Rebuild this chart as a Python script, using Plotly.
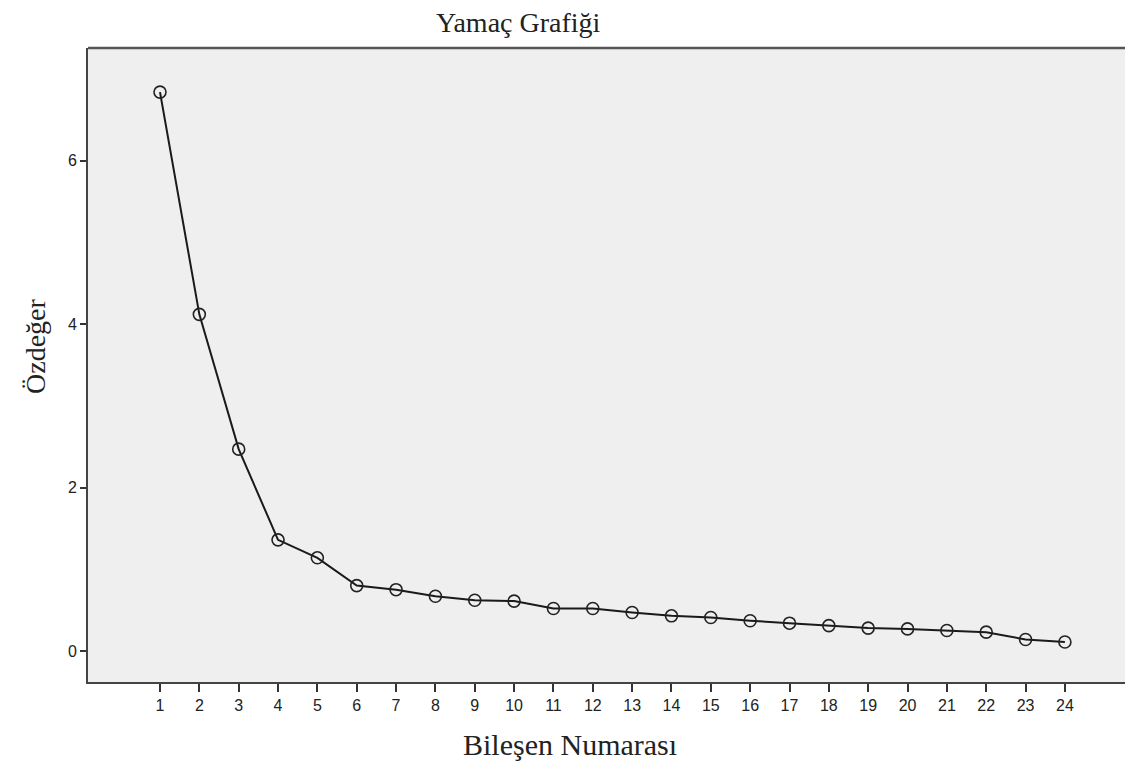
import plotly.graph_objects as go

components = list(range(1, 25))
eigenvalues = [6.84, 4.12, 2.47, 1.36, 1.14, 0.80, 0.75, 0.67, 0.62, 0.61,
               0.52, 0.52, 0.47, 0.43, 0.41, 0.37, 0.34, 0.31, 0.28, 0.27,
               0.25, 0.23, 0.14, 0.11]
y_ticks = [0, 2, 4, 6]

title_text = "Yamaç Grafiği"
x_title = "Bileşen Numarası"
y_title = "Özdeğer"

# page body has an 8px margin; figure sized so the plot lands where the reference has it
W, H = 1125, 755
L, R, T, B = 80, 2, 40, 81
OFF = 8

fig = go.Figure()
fig.add_trace(go.Scatter(
    x=components, y=eigenvalues, mode="lines+markers",
    line=dict(color="#1a1a1a", width=2),
    marker=dict(symbol="circle-open", size=12, color="#222222",
                line=dict(width=1.6, color="#222222")),
    showlegend=False, hoverinfo="x+y",
))

tickfont = dict(family="Liberation Sans, Arial, sans-serif", size=16, color="#222222")
serif = "Liberation Serif, Times New Roman, serif"

fig.update_layout(
    width=W, height=H,
    margin=dict(l=L, r=R, t=T, b=B),
    paper_bgcolor="white",
    plot_bgcolor="#efefef",
    xaxis=dict(
        range=[-0.83, 25.68], tickmode="array", tickvals=components,
        ticktext=[str(c) for c in components],
        ticks="outside", ticklen=8, tickwidth=2, tickcolor="#333333",
        showline=True, linecolor="#444444", linewidth=2,
        showgrid=False, zeroline=False, tickfont=tickfont,
    ),
    yaxis=dict(
        range=[-0.38, 7.38], tickmode="array", tickvals=y_ticks,
        ticktext=[str(v) for v in y_ticks],
        ticks="outside", ticklen=6, tickwidth=2, tickcolor="#333333",
        showline=True, linecolor="#444444", linewidth=2,
        showgrid=False, zeroline=False, tickfont=tickfont,
    ),
)

pw = W - L - R
ph = H - T - B


def px_to_paper(px, py):
    return (px - OFF - L) / pw, 1 - (py - OFF - T) / ph


for text, px, py, size, angle in [
    (title_text, 518, 22, 28, 0),
    (x_title, 570, 744, 30, 0),
    (y_title, 35, 346, 28, -90),
]:
    xx, yy = px_to_paper(px, py)
    fig.add_annotation(text=text, x=xx, y=yy, xref="paper", yref="paper",
                       xanchor="center", yanchor="middle", textangle=angle,
                       showarrow=False, font=dict(family=serif, size=size, color="#222222"))

# top border of the plot frame
fig.add_shape(type="line", xref="paper", yref="paper", x0=0, x1=1, y0=1, y1=1,
              line=dict(color="#555555", width=2.5))

fig.write_html("out.html")
